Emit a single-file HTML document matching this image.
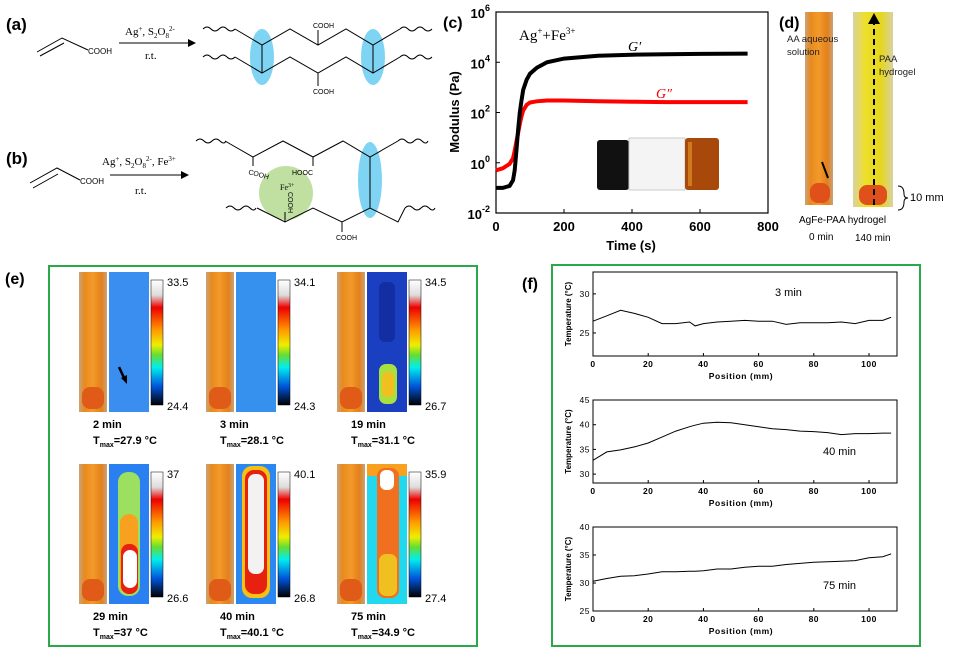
<!DOCTYPE html>
<html><head><meta charset="utf-8"><style>
html,body{margin:0;padding:0;background:#fff;}
svg{display:block;font-family:"Liberation Sans",Arial,sans-serif;}
.serif{font-family:"Liberation Serif",serif;}
</style></head><body>
<svg id="fig" width="956" height="658" viewBox="0 0 956 658" xmlns="http://www.w3.org/2000/svg">
<defs>
 <linearGradient id="cbar" x1="0" y1="0" x2="0" y2="1">
  <stop offset="0" stop-color="#fff"/><stop offset="0.12" stop-color="#ddd"/><stop offset="0.22" stop-color="#e00"/>
  <stop offset="0.4" stop-color="#f90"/><stop offset="0.52" stop-color="#ee0"/><stop offset="0.6" stop-color="#6d3"/>
  <stop offset="0.7" stop-color="#0ee"/><stop offset="0.85" stop-color="#05d"/><stop offset="1" stop-color="#000"/>
 </linearGradient>
 <linearGradient id="tube" x1="0" y1="0" x2="1" y2="0">
  <stop offset="0" stop-color="#c9a27a"/><stop offset="0.2" stop-color="#e88a1e"/><stop offset="0.5" stop-color="#f39a2a"/><stop offset="0.8" stop-color="#e3801a"/><stop offset="1" stop-color="#c9a27a"/>
 </linearGradient>
 <linearGradient id="tubeY" x1="0" y1="0" x2="1" y2="0">
  <stop offset="0" stop-color="#d8d2a0"/><stop offset="0.3" stop-color="#eee02a"/><stop offset="0.7" stop-color="#e6d61e"/><stop offset="1" stop-color="#d8d2a0"/>
 </linearGradient>
 <radialGradient id="hot1" cx="0.5" cy="0.5" r="0.5"><stop offset="0.35" stop-color="#fff"/><stop offset="0.55" stop-color="#e22"/><stop offset="0.8" stop-color="#fb0"/><stop offset="1" stop-color="#8d4"/></radialGradient>
</defs>

<!-- Panel a -->
<g>
 <text x="6" y="30" font-size="17" font-weight="bold">(a)</text>
 <g stroke="#000" stroke-width="1" fill="none">
  <path d="M37 52 L62 38 L88 50"/><path d="M40 56 L64 43"/>
  <path d="M119 43 L190 43"/>
  <path d="M203 29 q4 -4 8 0 t8 0 t8 0 t8 0"/><path d="M203 57 q4 -4 8 0 t8 0 t8 0 t8 0"/>
  <path d="M400 29 q4 -4 8 0 t8 0 t8 0 t8 0"/><path d="M400 57 q4 -4 8 0 t8 0 t8 0 t8 0"/>
 </g>
 <polygon points="188,39 196,43 188,47" fill="#000"/>
 <text x="88" y="54" font-size="8">COOH</text>
 <text x="125" y="35" font-size="11" class="serif">Ag<tspan font-size="7" dy="-4">+</tspan><tspan dy="4">, S</tspan><tspan font-size="7" dy="3">2</tspan><tspan dy="-3">O</tspan><tspan font-size="7" dy="3">8</tspan><tspan font-size="7" dy="-7">2-</tspan></text>
 <text x="145" y="59" font-size="11" class="serif">r.t.</text>
 <ellipse cx="262" cy="57" rx="12" ry="28" fill="#7fd4f4"/><ellipse cx="373" cy="57" rx="12" ry="28" fill="#7fd4f4"/>
 <g stroke="#000" stroke-width="1" fill="none">
  <path d="M235 29 L262 45 L290 29 L318 45 L346 29 L373 45 L400 29"/>
  <path d="M235 57 L262 73 L290 57 L318 73 L346 57 L373 73 L400 57"/>
  <path d="M262 45 L262 73 M373 45 L373 73 M318 45 L318 30 M318 73 L318 86"/>
 </g>
 <text x="313" y="28" font-size="7">COOH</text><text x="313" y="94" font-size="7">COOH</text>
</g>

<!-- Panel b -->
<g>
 <text x="6" y="164" font-size="17" font-weight="bold">(b)</text>
 <g stroke="#000" stroke-width="1" fill="none">
  <path d="M30 183 L57 168 L80 180"/><path d="M33 188 L58 174"/><path d="M110 175 L183 175"/>
  <path d="M196 141 q4 -4 8 0 t8 0 t8 0 t6 0"/><path d="M398 141 q4 -4 8 0 t8 0 t8 0 t6 0"/>
  <path d="M226 208 q4 -4 8 0 t8 0 t8 0 t6 0"/><path d="M405 208 q4 -4 8 0 t8 0 t8 0 t6 0"/>
 </g>
 <polygon points="181,171 189,175 181,179" fill="#000"/>
 <text x="80" y="184" font-size="8">COOH</text>
 <text x="102" y="165" font-size="11" class="serif">Ag<tspan font-size="7" dy="-4">+</tspan><tspan dy="4">, S</tspan><tspan font-size="7" dy="3">2</tspan><tspan dy="-3">O</tspan><tspan font-size="7" dy="3">8</tspan><tspan font-size="7" dy="-7">2-</tspan><tspan dy="4">, Fe</tspan><tspan font-size="7" dy="-4">3+</tspan></text>
 <text x="135" y="194" font-size="11" class="serif">r.t.</text>
 <circle cx="286" cy="193" r="27" fill="#bfe0a0"/>
 <ellipse cx="370" cy="180" rx="12" ry="38" fill="#7fd4f4"/>
 <g stroke="#000" stroke-width="1" fill="none">
  <path d="M225 141 L253 157 L283 141 L313 157 L343 141 L370 157 L398 141"/>
  <path d="M257 208 L285 222 L313 208 L342 222 L370 208 L398 222 L405 208"/>
  <path d="M370 157 L370 208 M253 157 L253 166 M313 157 L313 166 M285 222 L285 212 M342 222 L342 232"/>
 </g>
 <text x="248" y="174" font-size="7" transform="rotate(15 248 174)">COOH</text>
 <text x="292" y="175" font-size="7">HOOC</text>
 <text x="280" y="190" font-size="8" class="serif">Fe<tspan font-size="6" dy="-3">3+</tspan></text>
 <text x="288" y="192" font-size="7" transform="rotate(90 288 192)">COOH</text>
 <text x="336" y="240" font-size="7">COOH</text>
</g>

<!-- Panel c -->
<g id="panelC">
 <text x="443" y="28" font-size="16" font-weight="bold">(c)</text>
 <text x="0" y="0" font-size="13" font-weight="bold" transform="translate(459 112) rotate(-90)" text-anchor="middle">Modulus (Pa)</text>
 <text x="631" y="250" font-size="13" font-weight="bold" text-anchor="middle">Time (s)</text>
 <text x="519" y="40" font-size="15" class="serif">Ag<tspan font-size="9" dy="-6">+</tspan><tspan dy="6">+Fe</tspan><tspan font-size="9" dy="-6">3+</tspan></text>
 <text x="628" y="51" font-size="14" class="serif" font-style="italic">G′</text>
 <text x="656" y="98" font-size="14" class="serif" font-style="italic" fill="#e00">G″</text>
 <g>
  <rect x="597" y="140" width="32" height="50" rx="3" fill="#111"/>
  <rect x="629" y="138" width="56" height="52" fill="#f4f4f4" stroke="#ccc"/>
  <rect x="685" y="138" width="34" height="52" rx="3" fill="#a8480a"/>
  <rect x="688" y="142" width="4" height="44" fill="#d07a20"/>
 </g>
</g>

<!-- Panel d -->
<g>
 <rect x="805" y="12" width="28" height="193" fill="url(#tube)"/>
 <rect x="810" y="183" width="20" height="20" rx="8" fill="#e0501a"/>
 <rect x="853" y="12" width="40" height="195" fill="url(#tubeY)"/>
 <rect x="859" y="185" width="28" height="20" rx="8" fill="#e0501a"/>
 <line x1="874" y1="205" x2="874" y2="22" stroke="#000" stroke-width="2" stroke-dasharray="6,4"/>
 <polygon points="868,24 874,13 880,24" fill="#000"/>
 <text x="779" y="28" font-size="16" font-weight="bold">(d)</text>
 <text x="787" y="42" font-size="9.5" fill="#222">AA aqueous</text>
 <text x="787" y="55" font-size="9.5" fill="#222">solution</text>
 <text x="879" y="62" font-size="9.5" fill="#222">PAA</text>
 <text x="879" y="75" font-size="9.5" fill="#222">hydrogel</text>
 <path d="M822 162 L828 178" stroke="#000" stroke-width="2"/>
 <path d="M898 186 q6 0 6 8 q0 4 4 4 q-4 0 -4 4 q0 8 -6 8" fill="none" stroke="#000"/>
 <text x="910" y="201" font-size="11">10 mm</text>
 <text x="799" y="223" font-size="10">AgFe-PAA hydrogel</text>
 <text x="809" y="240" font-size="10">0 min</text>
 <text x="855" y="241" font-size="10">140 min</text>
</g>

<!-- Panel e -->
<g id="panelE">
 <text x="5" y="284" font-size="16" font-weight="bold">(e)</text>
 <rect x="49" y="266" width="428" height="380" fill="none" stroke="#2aa84a" stroke-width="2"/>
</g>

<!-- Panel f -->
<g id="panelF">
 <text x="522" y="289" font-size="16" font-weight="bold">(f)</text>
 <rect x="552" y="265" width="368" height="381" fill="none" stroke="#2aa84a" stroke-width="2"/>
</g>
</svg>
<script>
// ---------- Panel c data ----------
const cTimes  = [0,20,40,50,55,60,65,70,75,80,90,100,120,150,200,300,400,500,600,740];
const gPrime  = [0.1,0.1,0.12,0.2,0.5,3,20,100,300,800,2000,3500,6000,10000,14000,18000,20000,21000,21500,22000];
const gDouble = [0.5,0.6,0.9,1.5,3,7,15,35,70,120,200,250,280,300,300,280,270,260,260,260];
const cXTicks = [0,200,400,600,800];
const cYTicksExp = [-2,0,2,4,6];

// ---------- Panel e data ----------
const eTimes = ["2 min","3 min","19 min","29 min","40 min","75 min"];
const eTmax  = ["27.9","28.1","31.1","37","40.1","34.9"];
const eHigh  = ["33.5","34.1","34.5","37","40.1","35.9"];
const eLow   = ["24.4","24.3","26.7","26.6","26.8","27.4"];

// ---------- Panel f data ----------
const fPos   = [0,5,10,15,20,25,30,35,37,40,45,50,55,60,65,70,75,80,85,90,95,100,105,108];
const f3min  = [26.5,27.2,27.9,27.5,27.0,26.2,26.2,26.4,25.9,26.2,26.4,26.5,26.6,26.5,26.5,26.1,26.3,26.3,26.3,26.4,26.2,26.6,26.6,27.0];
const f40min = [32.8,34.5,34.9,35.5,36.3,37.5,38.7,39.6,39.9,40.3,40.5,40.4,40.0,39.6,39.2,39.0,38.7,38.6,38.4,38.0,38.2,38.2,38.3,38.3];
const f75min = [30.3,30.8,31.2,31.3,31.6,32.0,32.0,32.1,32.1,32.2,32.5,32.5,32.8,33.0,33.0,33.3,33.5,33.7,33.8,33.9,34.0,34.5,34.7,35.2];
const fXTicks = [0,20,40,60,80,100];

const NS = "http://www.w3.org/2000/svg";
function mk(tag, attrs, parent, txt){
  const e = document.createElementNS(NS, tag);
  for (const k in attrs) e.setAttribute(k, attrs[k]);
  if (txt !== undefined) e.textContent = txt;
  parent.appendChild(e); return e;
}

// ----- Panel c -----
(function(){
  const g = document.getElementById("panelC");
  const X0=496, X1=768, Y0=213, Y1=12;
  const sx = t => X0 + (t/800)*(X1-X0);
  const sy = v => Y0 - ((Math.log10(v)+2)/8)*(Y0-Y1);
  const frame = mk("rect",{x:X0,y:Y1,width:X1-X0,height:Y0-Y1,fill:"none",stroke:"#000","stroke-width":1.2},g);
  
  
  cXTicks.forEach(t=>{
    mk("line",{x1:sx(t),x2:sx(t),y1:Y0,y2:Y0-4,stroke:"#000"},g);
    const tl = mk("text",{x:sx(t),y:Y0+18,"font-size":13,"font-weight":"bold","text-anchor":"middle"},g,String(t));
    
    
  });
  cYTicksExp.forEach(p=>{
    const y = sy(Math.pow(10,p));
    mk("line",{x1:X0,x2:X0+4,y1:y,y2:y,stroke:"#000"},g);
    const tl = mk("text",{x:X0-6,y:y+6,"font-size":13,"font-weight":"bold","text-anchor":"end"},g);
    
    
    mk("tspan",{},tl,"10");
    mk("tspan",{"font-size":9,dy:-7},tl,String(p));
  });
  const line = (arr,col,name)=>{
    const p = mk("path",{d:arr.map((v,i)=>(i?"L":"M")+sx(cTimes[i]).toFixed(1)+" "+sy(v).toFixed(1)).join(" "),fill:"none",stroke:col,"stroke-width":4},g);
    
    
  };
  line(gDouble,"#f00","series-g-double-prime");
  line(gPrime,"#000","series-g-prime");
})();

// ----- Panel e -----
(function(){
  const g = document.getElementById("panelE");
  const cols=[79,206,337], rows=[272,464];
  const thermals = [
    ['#3a8ef0','#2f7fe8'],['#3690ee','#2c80e8'],['#1a3fc0','#2a70e0'],
    ['#2a80f0','#2060e0'],['#2a88f0','#1e68e0'],['#22d8ee','#30e0f0']
  ];
  eTimes.forEach((lab,i)=>{
    const x = cols[i%3], y = rows[Math.floor(i/3)];
    const tg = mk("g",{},g);
    
    
    mk("rect",{x:x,y:y,width:28,height:140,fill:"url(#tube)"},tg);
    mk("rect",{x:x+3,y:y+115,width:22,height:22,rx:8,fill:"#e05a18"},tg);
    const tx = x+30;
    mk("rect",{x:tx,y:y,width:40,height:140,fill:thermals[i][0]},tg);
    if(i===2){ mk("rect",{x:tx+12,y:y+10,width:16,height:60,rx:6,fill:"#102a9a",opacity:0.8},tg);
      mk("rect",{x:tx+12,y:y+92,width:18,height:40,rx:7,fill:"#a8e040"},tg);
      mk("rect",{x:tx+15,y:y+100,width:12,height:25,rx:5,fill:"#f0c020"},tg);}
    if(i===3){ mk("rect",{x:tx+9,y:y+8,width:22,height:124,rx:10,fill:"#9be060"},tg);
      mk("rect",{x:tx+11,y:y+50,width:18,height:80,rx:9,fill:"#f8a020"},tg);
      mk("rect",{x:tx+12,y:y+80,width:17,height:50,rx:8,fill:"#e82010"},tg);
      mk("rect",{x:tx+14,y:y+86,width:14,height:38,rx:7,fill:"#fff"},tg);}
    if(i===4){ mk("rect",{x:tx+6,y:y+2,width:28,height:132,rx:10,fill:"#f8c010"},tg);
      mk("rect",{x:tx+9,y:y+6,width:22,height:124,rx:9,fill:"#e82010"},tg);
      mk("rect",{x:tx+12,y:y+10,width:16,height:100,rx:7,fill:"#f2f2f2"},tg);}
    if(i===5){ mk("rect",{x:tx,y:y,width:40,height:12,fill:"#f8a020"},tg);
      mk("rect",{x:tx+10,y:y+4,width:22,height:130,rx:8,fill:"#f07020"},tg);
      mk("rect",{x:tx+13,y:y+6,width:14,height:20,rx:6,fill:"#fff"},tg);
      mk("rect",{x:tx+12,y:y+90,width:18,height:42,rx:7,fill:"#f0c020"},tg);}
    if(i===0){ mk("line",{x1:tx+10,y1:y+95,x2:tx+16,y2:y+108,stroke:"#000","stroke-width":2.5},tg);
      mk("polygon",{points:`${tx+12},${y+106} ${tx+18},${y+112} ${tx+18},${y+103}`,fill:"#000"},tg);}
    mk("rect",{x:tx+42,y:y+8,width:12,height:125,fill:"url(#cbar)",stroke:"#000","stroke-width":0.5},tg);
    const hl = mk("text",{x:tx+58,y:y+14,"font-size":11},tg,eHigh[i]);
    
    
    const ll = mk("text",{x:tx+58,y:y+138,"font-size":11},tg,eLow[i]);
    
    
    const tl = mk("text",{x:x+14,y:y+156,"font-size":11,"font-weight":"bold"},tg,lab);
    
    
    const tm = mk("text",{x:x+14,y:y+172,"font-size":11,"font-weight":"bold"},tg);
    
    
    mk("tspan",{},tm,"T");
    mk("tspan",{"font-size":7,dy:3},tm,"max");
    mk("tspan",{dy:-3},tm,"="+eTmax[i]+" °C");
  });
})();

// ----- Panel f -----
(function(){
  const g = document.getElementById("panelF");
  const X0=593, X1=897;
  const sx = v => X0 + v*(276/100);
  const charts = [
    {data:f3min, top:272, bot:356, ymin:22.05, ymax:32.8, ticks:[25,30], label:"3 min", lx:775, ly:296},
    {data:f40min, top:400, bot:483, ymin:28.2, ymax:45, ticks:[30,35,40,45], label:"40 min", lx:823, ly:455},
    {data:f75min, top:527, bot:611, ymin:25, ymax:40, ticks:[25,30,35,40], label:"75 min", lx:823, ly:589}
  ];
  charts.forEach((c,ci)=>{
    const cg = mk("g",{},g);
    
    
    const sy = v => c.bot - (v-c.ymin)/(c.ymax-c.ymin)*(c.bot-c.top);
    mk("rect",{x:X0,y:c.top,width:X1-X0,height:c.bot-c.top,fill:"none",stroke:"#000","stroke-width":1},cg);
    fXTicks.forEach(t=>{
      mk("line",{x1:sx(t),x2:sx(t),y1:c.bot,y2:c.bot-3,stroke:"#000"},cg);
      const tl = mk("text",{x:sx(t),y:c.bot+11,"font-size":8.5,"font-weight":"bold","text-anchor":"middle","letter-spacing":"0.5"},cg,String(t));
      
      
    });
    c.ticks.forEach(t=>{
      mk("line",{x1:X0,x2:X0+3,y1:sy(t),y2:sy(t),stroke:"#000"},cg);
      const tl = mk("text",{x:X0-3,y:sy(t)+3,"font-size":8.5,"text-anchor":"end","letter-spacing":"0.5"},cg,String(t));
      
      
    });
    const xt = mk("text",{x:(X0+X1)/2-4,y:c.bot+23,"font-size":8.5,"font-weight":"bold","text-anchor":"middle","letter-spacing":"0.6"},cg,"Position (mm)");
    
    
    const yt = mk("text",{x:0,y:0,"font-size":8,"font-weight":"bold","text-anchor":"middle",transform:`translate(${X0-22} ${(c.top+c.bot)/2}) rotate(-90)`},cg,"Temperature (°C)");
    
    
    const p = mk("path",{d:c.data.map((v,i)=>(i?"L":"M")+sx(fPos[i]).toFixed(1)+" "+sy(v).toFixed(1)).join(" "),fill:"none",stroke:"#000","stroke-width":1},cg);
    
    
    const lab = mk("text",{x:c.lx,y:c.ly,"font-size":11},cg,c.label);
    
    
  });
})();
</script>
</body></html>
